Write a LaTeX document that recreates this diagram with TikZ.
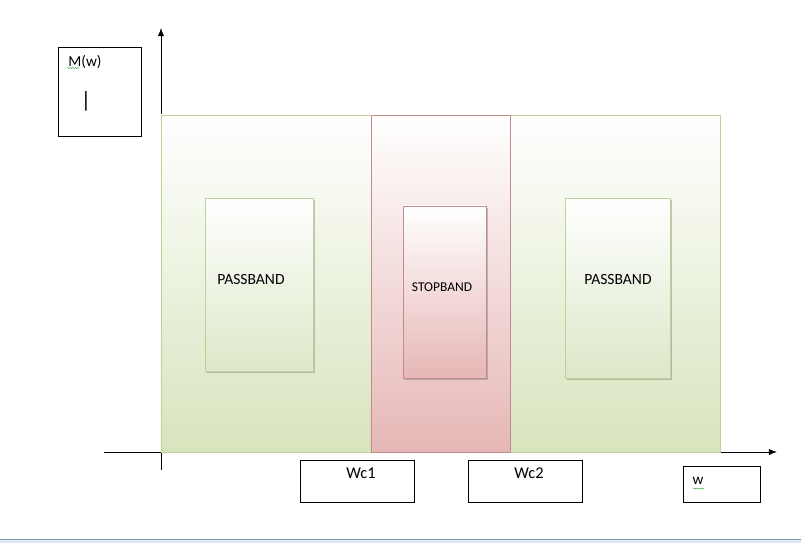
\documentclass[tikz,border=0pt]{standalone}
\usepackage{fontspec}
\setmainfont{Carlito}
\usetikzlibrary{arrows.meta,shadows,decorations.pathmorphing}
\definecolor{passgreen}{RGB}{215,228,189}
\definecolor{passlight}{RGB}{220,232,200}
\definecolor{passedge}{RGB}{190,210,150}
\definecolor{stopred}{RGB}{230,183,182}
\definecolor{stopedge}{RGB}{195,140,140}
\definecolor{framebl}{RGB}{127,157,185}
\definecolor{framefill}{RGB}{223,232,245}
\definecolor{spell}{RGB}{60,170,60}
\tikzset{
  band/.style={draw=passedge, line width=0.6pt, top color=white, middle color=passgreen, bottom color=passgreen},
  stopstrip/.style={draw=stopedge, line width=0.6pt, top color=white, bottom color=stopred},
  passbox/.style={draw=passedge, line width=0.6pt, top color=white, bottom color=passlight,
    drop shadow={shadow xshift=1.6pt, shadow yshift=-1.6pt, opacity=0.45, fill=gray}},
  stopbox/.style={draw=stopedge, line width=0.6pt, top color=white, bottom color=stopred,
    drop shadow={shadow xshift=1.6pt, shadow yshift=-1.6pt, opacity=0.45, fill=gray}},
  labelbox/.style={draw, line width=0.7pt, fill=white, inner sep=0pt},
  squiggle/.style={spell, line width=0.4pt, decorate, decoration={snake, amplitude=0.45pt, segment length=2.2pt}}
}
\begin{document}
\begin{tikzpicture}[x=0.03cm, y=-0.03cm, font=\fontsize{13.3}{15}\selectfont]
	\useasboundingbox (0,0) rectangle (801,543);
	% window edge
	\fill[framefill] (0,539) rectangle (801,543);
	\draw[framebl, line width=0.6pt] (0,539) -- (801,539);
	% axes
	\coordinate (ybot) at (161,470);
	\coordinate (ytop) at (161,28);
	\coordinate (xleft) at (104,452);
	\coordinate (xright) at (777,452);
	\draw[line width=0.7pt, -{Latex[length=7pt, width=5.5pt]}] (ybot) -- (ytop);
	\draw[line width=0.7pt, -{Latex[length=7pt, width=5.5pt]}] (xleft) -- (xright);
	% bands
	\node[band, minimum width=16.77cm, minimum height=10.11cm] (green) at (440.5,283.5) {};
	\node[stopstrip, minimum width=4.17cm, minimum height=10.11cm] (red) at (440.5,283.5) {};
	\node[passbox, minimum width=3.24cm, minimum height=5.19cm] (pass1) at (259,284.5) {};
	\node[stopbox, minimum width=2.49cm, minimum height=5.16cm] (stop) at (444.5,292) {};
	\node[passbox, minimum width=3.15cm, minimum height=5.4cm] (pass2) at (617.5,288) {};
	\node (pass1txt) at (251,280) {PASSBAND};
	\node[font=\fontsize{11.5}{13}\selectfont] (stoptxt) at (442,287) {STOPBAND};
	\node (pass2txt) at (618,280) {PASSBAND};
	% magnitude label
	\node[labelbox, minimum width=2.49cm, minimum height=2.67cm] (mbox) at (99.5,91.5) {};
	\node[font=\fontsize{13}{15}\selectfont] (mtxt) at (85,62) {M(w)};
	\node[font=\fontsize{19}{21}\selectfont] (cursor) at (86,101) {|};
	\draw[squiggle] (67,68) -- (80,68);
	% cut-off labels
	\foreach \n/\x/\t in {wc1/357/Wc1, wc2/525/Wc2}{
		\node[labelbox, minimum width=3.42cm, minimum height=1.26cm] (\n) at (\x,481) {};
		\node[font=\fontsize{14}{16}\selectfont] (\n txt) at (\x+4,473) {\t};
	}
	\node[labelbox, minimum width=2.31cm, minimum height=1.08cm] (wbox) at (721.5,484) {};
	\node[font=\fontsize{13}{15}\selectfont] (wtxt) at (698,481) {w};
	\draw[squiggle] (693,488.5) -- (704,488.5);
\end{tikzpicture}
\end{document}
